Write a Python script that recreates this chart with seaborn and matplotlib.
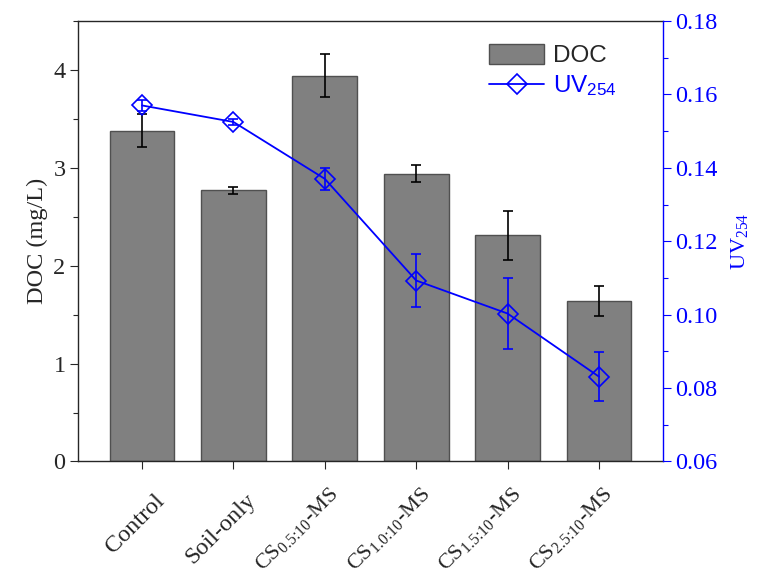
import numpy as np
import matplotlib
matplotlib.use('Agg')
import matplotlib.pyplot as plt
import matplotlib.transforms as mtrans
from matplotlib.lines import Line2D
from matplotlib.patches import Patch
from matplotlib.ticker import MultipleLocator, FormatStrFormatter
import seaborn as sns

# 数据
groups = ['Control', 'Soil-only', r'CS$_{0.5\!:\!10}$-MS', r'CS$_{1.0\!:\!10}$-MS',
          r'CS$_{1.5\!:\!10}$-MS', r'CS$_{2.5\!:\!10}$-MS']
doc = [3.38, 2.77, 3.94, 2.94, 2.31, 1.64]
doc_err = [0.17, 0.035, 0.22, 0.085, 0.25, 0.155]
uv254 = [0.157, 0.1525, 0.137, 0.1093, 0.1003, 0.0831]
uv254_err = [0.0016, 0.0008, 0.003, 0.0073, 0.0097, 0.0067]

sns.set_style('ticks')
plt.rcParams['font.family'] = ['Liberation Serif', 'DejaVu Serif']
plt.rcParams['mathtext.fontset'] = 'custom'
plt.rcParams['mathtext.rm'] = 'Liberation Serif'
plt.rcParams['mathtext.it'] = 'Liberation Serif:italic'
plt.rcParams['mathtext.sf'] = 'Liberation Sans'
plt.rcParams['axes.linewidth'] = 1.0

bar_c = '#808080'
edge_c = '#505050'
blue = '#0000ff'
fs = 17.5
pos = np.arange(len(groups))

fig = plt.figure(figsize=(7.58, 5.76), dpi=100)
ax = fig.add_axes([0.103, 0.1988, 0.7717, 0.7647])

# 柱状图 DOC
sns.barplot(x=groups, y=doc, color=bar_c, saturation=1, width=0.71,
            edgecolor=edge_c, linewidth=1.0, errorbar=None, ax=ax)
ax.errorbar(pos, doc, yerr=doc_err, fmt='none', ecolor='black',
            elinewidth=1.2, capsize=3.5, capthick=1.2)
ax.set_xlim(-0.7, 5.7)
ax.set_ylim(0, 4.5)
ax.yaxis.set_major_locator(MultipleLocator(1))
ax.yaxis.set_minor_locator(MultipleLocator(0.5))
ax.tick_params(axis='y', which='major', direction='out', length=5.5, width=0.8, labelsize=fs)
ax.tick_params(axis='y', which='minor', direction='out', length=3.4, width=0.8)
ax.tick_params(axis='x', direction='out', length=5.5, width=0.8, labelsize=fs)
ax.set_ylabel('DOC (mg/L)', fontsize=fs)
ax.set_xlabel('')
ax.spines['right'].set_visible(False)

for i, lab in enumerate(ax.get_xticklabels()):
    lab.set_rotation(45)
    lab.set_ha('right')
    lab.set_va('top')
    lab.set_rotation_mode('anchor')
    if i >= 2:
        lab.set_fontsize(16)
        offset = mtrans.ScaledTranslation(0.03, -0.1, fig.dpi_scale_trans)
    else:
        offset = mtrans.ScaledTranslation(0.12, -0.16, fig.dpi_scale_trans)
    lab.set_transform(lab.get_transform() + offset)

# 折线图 UV254
ax2 = ax.twinx()
ax2.errorbar(pos, uv254, yerr=uv254_err, fmt='none', ecolor=blue,
             elinewidth=1.2, capsize=3.5, capthick=1.2)
sns.lineplot(x=pos, y=uv254, ax=ax2, color=blue, linewidth=1.3,
             marker='D', markersize=10, markerfacecolor='none',
             markeredgecolor=blue, markeredgewidth=1.2)
ax2.set_ylim(0.06, 0.18)
ax2.yaxis.set_major_locator(MultipleLocator(0.02))
ax2.yaxis.set_minor_locator(MultipleLocator(0.01))
ax2.yaxis.set_major_formatter(FormatStrFormatter('%.2f'))
ax2.tick_params(axis='y', which='major', direction='out', length=5.5, width=0.8,
                labelsize=fs, colors=blue)
ax2.tick_params(axis='y', which='minor', direction='out', length=3.4, width=0.8, colors=blue)
ax2.set_ylabel(r'UV$_{254}$', fontsize=16, color=blue, labelpad=8)
ax2.spines['right'].set_color(blue)
for s in ['left', 'top', 'bottom']:
    ax2.spines[s].set_visible(False)

handles = [Patch(facecolor=bar_c, edgecolor=edge_c, linewidth=1.0),
           Line2D([], [], color=blue, linewidth=1.3, marker='D', markersize=10,
                  markerfacecolor='none', markeredgecolor=blue, markeredgewidth=1.2)]
leg = ax2.legend(handles, ['DOC', r'UV$_{\mathsf{254}}$'], loc='upper left',
                 bbox_to_anchor=(0.6825, 0.975), frameon=False, handlelength=2.26,
                 handleheight=0.85, handletextpad=0.37, borderpad=0, labelspacing=0.28,
                 prop={'family': 'Liberation Sans', 'size': fs})
leg.get_texts()[1].set_color(blue)

fig.savefig('out.png', dpi=100)
